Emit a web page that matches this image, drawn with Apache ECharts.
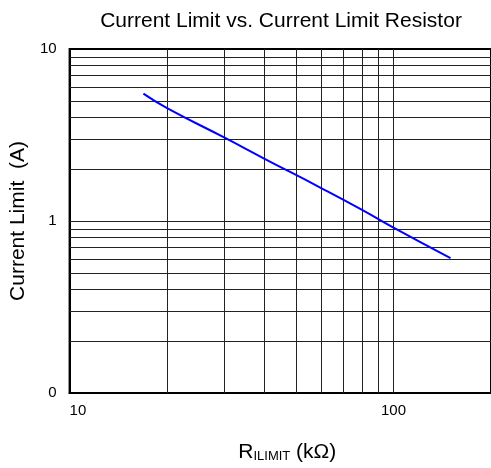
<!DOCTYPE html>
<html>
<head>
<meta charset="utf-8">
<script src="https://cdn.jsdelivr.net/npm/echarts@6/dist/echarts.min.js"></script>
<style>
  html, body { margin: 0; padding: 0; background: #fff; }
  #chart { width: 491px; height: 468px; }
</style>
</head>
<body>
<div id="chart"></div>
<script>
// values
const resistance = [16.9, 20, 30, 40, 60, 80, 100, 150];        // kOhm
const currentLimit = [5.5, 4.53, 3.06, 2.3, 1.55, 1.16, 0.914, 0.608]; // A

// log grid lines (2..9 of each decade)
const xGridLines = [20, 30, 40, 50, 60, 70, 80, 90, 100];
const yGridLines = [0.2, 0.3, 0.4, 0.5, 0.6, 0.7, 0.8, 0.9, 1, 2, 3, 4, 5, 6, 7, 8, 9];

const xTickLabels = { 10: '10', 100: '100' };
const yTickLabels = { 0.1: '0', 1: '1', 10: '10' };

const font = 'Liberation Sans, Arial, sans-serif';
const gridColor = '#222';

const chart = echarts.init(document.getElementById('chart'));

const markData = xGridLines.map(v => ({ xAxis: v }))
    .concat(yGridLines.map(v => ({ yAxis: v })));

chart.setOption({
    animation: false,
    backgroundColor: '#fff',
    title: {
        text: 'Current Limit vs. Current Limit Resistor',
        left: 276,
        textAlign: 'center',
        top: 6,
        textStyle: { fontFamily: font, fontSize: 21, fontWeight: 'normal', color: '#000' }
    },
    grid: {
        left: 68, top: 49, bottom: 72, right: -2,
        show: true, borderColor: '#000', borderWidth: 2
    },
    xAxis: {
        type: 'log',
        logBase: 10,
        min: 10,
        max: 200,
        name: '{r|R}{s|ILIMIT}{r| (kΩ)}',
        nameLocation: 'middle',
        nameGap: 49,
        nameTextStyle: {
            padding: [0, 0, 0, 14],
            rich: {
                r: { fontFamily: font, fontSize: 21, color: '#000' },
                s: { fontFamily: font, fontSize: 13, color: '#000', padding: [8, 0, 0, 0] }
            }
        },
        axisLine: { lineStyle: { color: '#000', width: 2 } },
        axisTick: { show: false },
        splitLine: { show: false },
        axisLabel: {
            fontFamily: font, fontSize: 15, color: '#000', margin: 10,
            showMaxLabel: false,
            alignMinLabel: 'left',
            formatter: v => xTickLabels[Math.round(v)] || ''
        }
    },
    yAxis: {
        type: 'log',
        logBase: 10,
        min: 0.1,
        max: 10,
        name: 'Current Limit  (A)',
        nameLocation: 'middle',
        nameGap: 39,
        nameTextStyle: { fontFamily: font, fontSize: 21, color: '#000' },
        axisLine: { show: true, lineStyle: { color: '#000', width: 2 } },
        axisTick: { show: false },
        splitLine: { show: false },
        axisLabel: {
            fontFamily: font, fontSize: 15, color: '#000', margin: 13,
            formatter: v => {
                const key = Math.round(v * 10) / 10;
                return yTickLabels[key] || '';
            }
        }
    },
    series: [{
        type: 'line',
        data: resistance.map((r, i) => [r, currentLimit[i]]),
        showSymbol: false,
        smooth: true,
        lineStyle: { color: '#0000ff', width: 2 },
        z: 5,
        markLine: {
            silent: true,
            symbol: 'none',
            label: { show: false },
            lineStyle: { color: gridColor, width: 1, type: 'solid' },
            data: markData,
            z: 1
        }
    }]
});
</script>
</body>
</html>
